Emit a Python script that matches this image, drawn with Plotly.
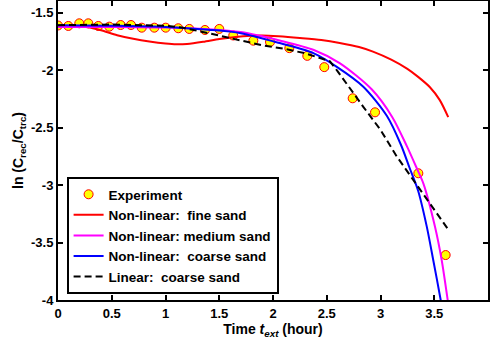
import plotly.graph_objects as go

# experiment
exp_t = [0.0, 0.096, 0.198, 0.282, 0.375, 0.477, 0.583, 0.679, 0.779, 0.896, 1.002, 1.119,
         1.221, 1.367, 1.5, 1.63, 1.817, 1.972, 2.152, 2.319, 2.477, 2.741, 2.949, 3.352, 3.606]
exp_y = [-1.613, -1.617, -1.594, -1.594, -1.617, -1.623, -1.609, -1.609, -1.632, -1.632, -1.632, -1.637,
         -1.643, -1.652, -1.643, -1.70, -1.745, -1.757, -1.81, -1.877, -1.975, -2.246, -2.368, -2.898, -3.609]

# non-linear: fine sand
fine_t = [0.0, 0.15, 0.28, 0.4, 0.55, 0.7, 0.85, 1.0, 1.1, 1.2, 1.35, 1.5, 1.65, 1.8, 1.9,
          2.05, 2.25, 2.45, 2.62, 2.8, 2.93, 3.1, 3.25, 3.35, 3.46, 3.55, 3.63]
fine_y = [-1.62, -1.62, -1.628, -1.655, -1.697, -1.728, -1.752, -1.770, -1.777, -1.774, -1.755, -1.73,
          -1.712, -1.702, -1.700, -1.707, -1.722, -1.740, -1.765, -1.80, -1.84, -1.91, -1.99, -2.06,
          -2.15, -2.26, -2.41]

# non-linear: medium sand
med_t = [0.0, 0.5, 1.0, 1.4, 1.7, 2.07, 2.38, 2.62, 2.92, 3.11, 3.244, 3.34, 3.40, 3.507, 3.569, 3.625, 3.64]
med_y = [-1.625, -1.625, -1.63, -1.645, -1.67, -1.745, -1.826, -1.94, -2.17, -2.41, -2.66, -2.86,
         -2.99, -3.363, -3.652, -4.0, -4.1]

# non-linear: coarse sand
coarse_t = [0.0, 0.5, 1.0, 1.4, 1.7, 2.07, 2.38, 2.59, 2.84, 3.06, 3.19, 3.27, 3.35, 3.43, 3.49, 3.56, 3.58]
coarse_y = [-1.61, -1.615, -1.625, -1.65, -1.68, -1.768, -1.855, -1.97, -2.145, -2.40, -2.65, -2.85,
            -3.05, -3.36, -3.65, -4.0, -4.12]

# linear: coarse sand
lin_t = [0.0, 0.5, 1.0, 1.15, 1.4, 1.65, 1.9, 2.1, 2.3, 2.45, 2.53, 2.6, 2.72, 2.84, 3.0, 3.15,
         3.3, 3.46, 3.64]
lin_y = [-1.61, -1.605, -1.615, -1.63, -1.68, -1.73, -1.785, -1.815, -1.855, -1.90, -1.925, -2.01,
         -2.17, -2.32, -2.52, -2.75, -2.95, -3.16, -3.40]

x_ticks = [0, 0.5, 1, 1.5, 2, 2.5, 3, 3.5, 4]
x_labels = ["0", "0.5", "1", "1.5", "2", "2.5", "3", "3.5", "4"]
y_ticks = [-4, -3.5, -3, -2.5, -2, -1.5]
y_labels = ["-4", "-3.5", "-3", "-2.5", "-2", "-1.5"]

FONT = "Liberation Sans, Arial, sans-serif"

fig = go.Figure()
fig.add_trace(go.Scatter(x=exp_t, y=exp_y, mode="markers", name="<b>Experiment</b>",
                         marker=dict(symbol="circle", size=9, color="#ffff00",
                                     line=dict(color="#ff0000", width=1))))
fig.add_trace(go.Scatter(x=fine_t, y=fine_y, mode="lines", name="<b>Non-linear:\u00a0 fine sand</b>",
                         line=dict(color="#ff0000", width=2, shape="spline", smoothing=0.8)))
fig.add_trace(go.Scatter(x=med_t, y=med_y, mode="lines", name="<b>Non-linear: medium sand</b>",
                         line=dict(color="#ff00ff", width=2, shape="spline", smoothing=0.8)))
fig.add_trace(go.Scatter(x=coarse_t, y=coarse_y, mode="lines", name="<b>Non-linear:\u00a0 coarse sand</b>",
                         line=dict(color="#0000ff", width=2, shape="spline", smoothing=0.8)))
fig.add_trace(go.Scatter(x=lin_t, y=lin_y, mode="lines", name="<b>Linear:\u00a0 coarse sand</b>",
                         line=dict(color="#000000", width=2, dash="7px,4px")))

axis_common = dict(showgrid=False, zeroline=False, showline=True, linecolor="black", linewidth=2,
                   mirror="ticks", ticks="inside", ticklen=5, tickwidth=2, tickcolor="black",
                   automargin=False,
                   tickfont=dict(family=FONT, size=13, color="black"))

fig.update_layout(
    width=492, height=350,
    margin=dict(l=58, r=4, t=1, b=50),
    paper_bgcolor="white", plot_bgcolor="white",
    font=dict(family=FONT, color="black", size=13),
    xaxis=dict(range=[0, 4], tickvals=x_ticks, ticktext=["<b>%s</b>" % s for s in x_labels],
               title=dict(text="<b>Time <i>t</i><sub><i>ext</i></sub> (hour)</b>",
                          font=dict(family=FONT, size=14), standoff=2),
               **axis_common),
    yaxis=dict(range=[-4, -1.4], tickvals=y_ticks, ticktext=["<b>%s</b>" % s for s in y_labels],
               title=dict(text="<b>ln (C<sub>rec</sub>/C<sub>trc</sub>)</b>",
                          font=dict(family=FONT, size=14), standoff=4),
               **axis_common),
    legend=dict(x=0.02, y=0.02, xanchor="left", yanchor="bottom", bgcolor="white",
                bordercolor="black", borderwidth=2, font=dict(family=FONT, size=13.5),
                tracegroupgap=0),
)

fig.write_html("out.html", post_script="document.body.style.margin='0';",
               config={"displayModeBar": False})
